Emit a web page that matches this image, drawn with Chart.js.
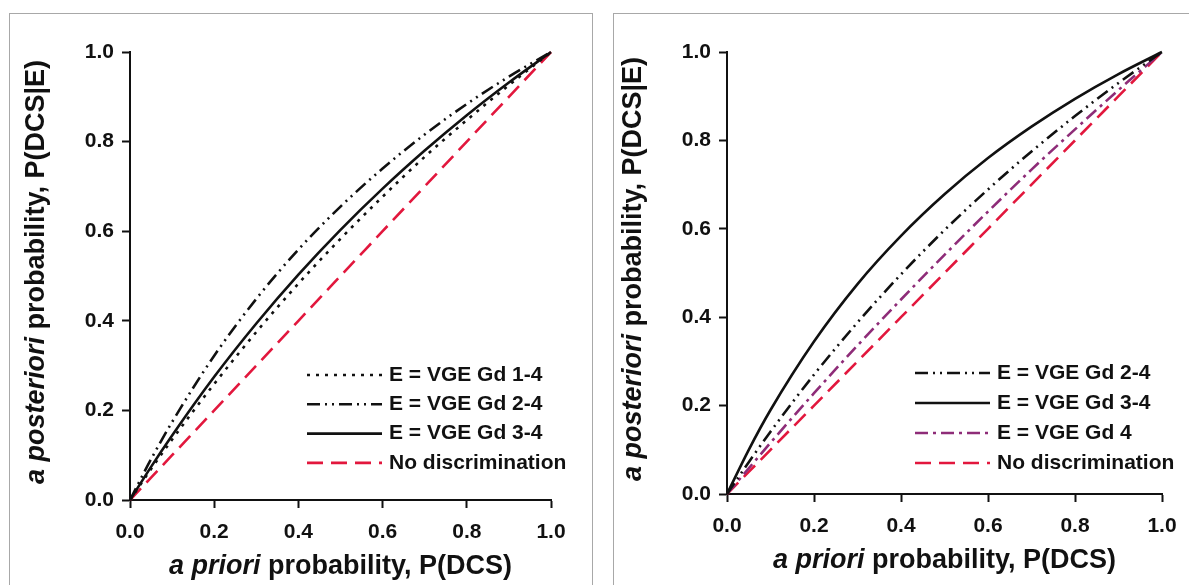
<!DOCTYPE html>
<html>
<head>
<meta charset="utf-8">
<script src="https://cdn.jsdelivr.net/npm/chart.js@4.4.1/dist/chart.umd.min.js"></script>
<style>
    body { margin: 0; background: #fff; width: 1189px; height: 585px; overflow: hidden; position: relative; }
    .frame { position: absolute; border: 1.5px solid #a8a8a8; background: #fff; }
    .plot { position: absolute; top: 0; height: 585px; }
</style>
</head>
<body>
<div class="frame" style="left:9px; top:13px; width:582px; height:600px;"></div>
<div class="frame" style="left:613px; top:13px; width:600px; height:600px;"></div>
<div class="plot" style="left:0; width:600px;"><canvas id="leftChart"></canvas></div>
<div class="plot" style="left:600px; width:589px;"><canvas id="rightChart"></canvas></div>

<script>
// a priori probability P(DCS) sample points
const pDCS = [0, 0.05, 0.1, 0.2, 0.3, 0.4, 0.5, 0.6, 0.7, 0.8, 0.9, 1.0];

// left panel, a posteriori probability
const gd14Left   = [0, 0.069, 0.135, 0.259, 0.375, 0.483, 0.583, 0.677, 0.766, 0.848, 0.926, 1.0];
const gd24Left   = [0, 0.091, 0.174, 0.322, 0.449, 0.559, 0.655, 0.740, 0.816, 0.884, 0.945, 1.0];
const gd34Left   = [0, 0.074, 0.144, 0.275, 0.394, 0.503, 0.603, 0.695, 0.780, 0.859, 0.932, 1.0];
const noDiscLeft = [0, 0.05, 0.1, 0.2, 0.3, 0.4, 0.5, 0.6, 0.7, 0.8, 0.9, 1.0];

// right panel
const gd24Right   = [0, 0.072, 0.141, 0.270, 0.388, 0.497, 0.597, 0.689, 0.775, 0.855, 0.930, 1.0];
const gd34Right   = [0, 0.100, 0.190, 0.345, 0.475, 0.584, 0.678, 0.760, 0.831, 0.894, 0.950, 1.0];
const gd4Right    = [0, 0.058, 0.116, 0.228, 0.336, 0.440, 0.541, 0.639, 0.734, 0.825, 0.914, 1.0];
const noDiscRight = [0, 0.05, 0.1, 0.2, 0.3, 0.4, 0.5, 0.6, 0.7, 0.8, 0.9, 1.0];

const tickLabels = ['0.0', '0.2', '0.4', '0.6', '0.8', '1.0'];
const xTitle = ['a priori', ' probability, P(DCS)'];
const yTitle = ['a posteriori', ' probability, P(DCS|E)'];

const FONT = '"Liberation Sans", Arial, Helvetica, sans-serif';
const RED = '#e2173d';
const PURPLE = '#8e2c78';

// line styles
const styles = {
    gd14:   { color: '#111', dash: [3, 6], width: 2.6 },
    gd24:   { color: '#111', dash: [13, 5, 2, 5, 2, 5], width: 2.6 },
    gd34:   { color: '#111', dash: [], width: 2.6 },
    gd4:    { color: PURPLE, dash: [13, 5, 3, 5], width: 2.6 },
    noDisc: { color: RED, dash: [16, 8], width: 2.6 }
};

function makeDataset(label, values, style) {
    return {
        label: label,
        data: pDCS.map((x, i) => ({ x: x, y: values[i] })),
        borderColor: style.color,
        borderDash: style.dash,
        borderWidth: style.width,
        pointRadius: 0,
        fill: false,
        cubicInterpolationMode: 'monotone',
        clip: false
    };
}

// legend drawn inside the plot area, bottom right
const insideLegend = {
    id: 'insideLegend',
    afterDraw(chart, args, opts) {
        const { ctx, chartArea } = chart;
        ctx.save();
        ctx.font = 'bold 21px ' + FONT;
        ctx.textBaseline = 'middle';
        ctx.fillStyle = '#111';
        chart.data.datasets.forEach((ds, i) => {
            const y = chartArea.bottom - opts.firstRow + i * opts.rowGap;
            ctx.beginPath();
            ctx.strokeStyle = ds.borderColor;
            ctx.lineWidth = ds.borderWidth;
            ctx.setLineDash(ds.borderDash);
            ctx.moveTo(chartArea.right - opts.lineStart, y);
            ctx.lineTo(chartArea.right - opts.lineEnd, y);
            ctx.stroke();
            ctx.fillText(ds.label, chartArea.right - opts.textStart, y);
        });
        ctx.restore();
    }
};

// axis titles with an italic first part
function drawMixed(ctx, parts, cx, cy) {
    const fonts = ['italic bold 27px ' + FONT, 'bold 27px ' + FONT];
    let total = 0;
    parts.forEach((p, i) => { ctx.font = fonts[i]; total += ctx.measureText(p).width; });
    let x = cx - total / 2;
    parts.forEach((p, i) => {
        ctx.font = fonts[i];
        ctx.fillText(p, x, cy);
        x += ctx.measureText(p).width;
    });
}

const axisTitles = {
    id: 'axisTitles',
    afterDraw(chart, args, opts) {
        const { ctx, chartArea } = chart;
        ctx.save();
        ctx.fillStyle = '#111';
        ctx.textBaseline = 'middle';
        ctx.textAlign = 'left';
        drawMixed(ctx, xTitle, (chartArea.left + chartArea.right) / 2, chartArea.bottom + opts.xOffset);
        ctx.translate(chartArea.left - opts.yOffset, (chartArea.top + chartArea.bottom) / 2 - 4);
        ctx.rotate(-Math.PI / 2);
        drawMixed(ctx, yTitle, 0, 0);
        ctx.restore();
    }
};

function fixScale(size) {
    return function (s) {
        if (s.isHorizontal()) s.height = size; else s.width = size;
        s.paddingTop = 0; s.paddingBottom = 0; s.paddingLeft = 0; s.paddingRight = 0;
    };
}

function axis(isX) {
    return {
        type: 'linear',
        min: 0,
        max: 1,
        afterFit: fixScale(isX ? 40 : 60),
        afterBuildTicks: (s) => { s.ticks = tickLabels.map(t => ({ value: parseFloat(t) })); },
        border: { display: true, color: '#111', width: 2 },
        grid: { drawOnChartArea: false, drawTicks: true, tickLength: 8, tickWidth: 2, tickColor: '#111' },
        ticks: {
            color: '#111',
            padding: isX ? 12 : 8,
            maxRotation: 0,
            font: { family: FONT, size: 21, weight: 'bold' },
            callback: (v) => tickLabels[Math.round(v * 5)]
        }
    };
}

function buildChart(id, datasets, padding, legendOpts) {
    new Chart(document.getElementById(id), {
        type: 'line',
        data: { datasets: datasets },
        options: {
            responsive: true,
            maintainAspectRatio: false,
            animation: false,
            layout: { padding: padding },
            scales: { x: axis(true), y: axis(false) },
            plugins: {
                legend: { display: false },
                tooltip: { enabled: false },
                insideLegend: legendOpts,
                axisTitles: { xOffset: 67, yOffset: 93 }
            }
        },
        plugins: [insideLegend, axisTitles]
    });
}

buildChart('leftChart', [
    makeDataset('E = VGE Gd 1-4', gd14Left, styles.gd14),
    makeDataset('E = VGE Gd 2-4', gd24Left, styles.gd24),
    makeDataset('E = VGE Gd 3-4', gd34Left, styles.gd34),
    makeDataset('No discrimination', noDiscLeft, styles.noDisc)
], { left: 70, right: 49, top: 52, bottom: 45 },
   { firstRow: 125, rowGap: 29.3, lineStart: 244, lineEnd: 169, textStart: 162 });

buildChart('rightChart', [
    makeDataset('E = VGE Gd 2-4', gd24Right, styles.gd24),
    makeDataset('E = VGE Gd 3-4', gd34Right, styles.gd34),
    makeDataset('E = VGE Gd 4', gd4Right, styles.gd4),
    makeDataset('No discrimination', noDiscRight, styles.noDisc)
], { left: 67, right: 27, top: 52, bottom: 51 },
   { firstRow: 121, rowGap: 30, lineStart: 247, lineEnd: 172, textStart: 165 });
</script>
</body>
</html>
